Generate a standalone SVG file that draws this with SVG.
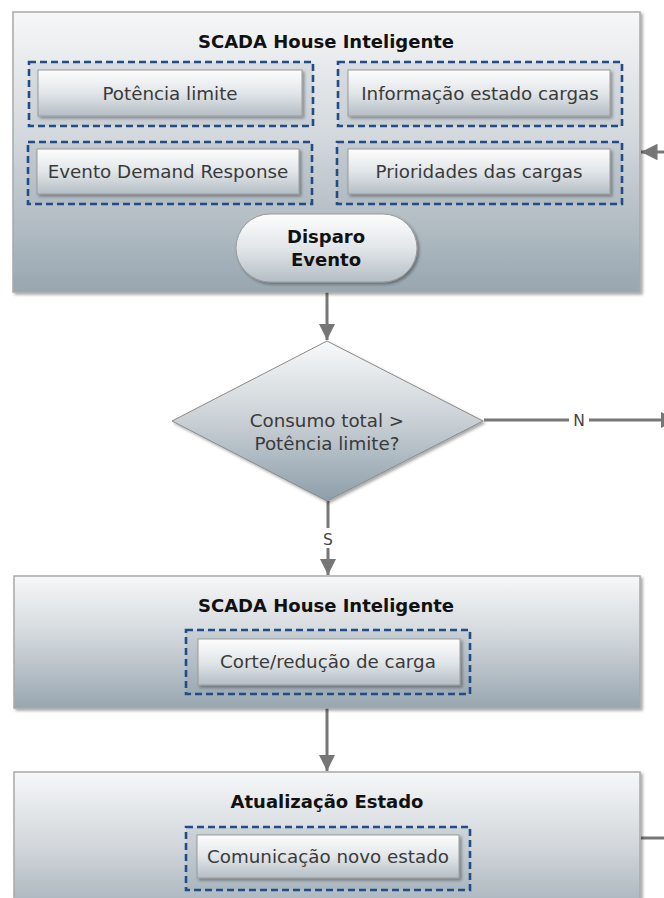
<svg xmlns="http://www.w3.org/2000/svg" width="664" height="898" viewBox="0 0 664 898">
<defs>
  <linearGradient id="gOuter" x1="0" y1="0" x2="0" y2="1">
    <stop offset="0" stop-color="#f6f7f8"/>
    <stop offset="0.45" stop-color="#d3d8dc"/>
    <stop offset="1" stop-color="#98a6b0"/>
  </linearGradient>
  <linearGradient id="gInner" x1="0" y1="0" x2="0" y2="1">
    <stop offset="0" stop-color="#fdfdfd"/>
    <stop offset="0.5" stop-color="#e2e6e9"/>
    <stop offset="1" stop-color="#b4bec5"/>
  </linearGradient>
  <linearGradient id="gDiamond" x1="0" y1="0" x2="0" y2="1">
    <stop offset="0" stop-color="#f8f9fa"/>
    <stop offset="0.5" stop-color="#c9d0d5"/>
    <stop offset="1" stop-color="#8d9eaa"/>
  </linearGradient>
  <filter id="sh" x="-10%" y="-10%" width="125%" height="130%">
    <feDropShadow dx="2" dy="2" stdDeviation="1.5" flood-color="#000" flood-opacity="0.35"/>
  </filter>
  <marker id="arr" viewBox="0 0 10 10" refX="10" refY="5" markerWidth="5.5" markerHeight="5.5" markerUnits="strokeWidth" orient="auto">
    <path d="M0,0 L10,5 L0,10 z" fill="#767676"/>
  </marker>
  <style>
    .outer{fill:url(#gOuter);stroke:#a9a9a9;stroke-width:1.5;filter:url(#sh)}
    .dash{fill:#6f8190;fill-opacity:0.12;stroke:#234c87;stroke-width:2.6;stroke-dasharray:7 4}
    .inner{fill:url(#gInner);stroke:#9a9a9a;stroke-width:1;filter:url(#sh)}
    .title{font-family:"DejaVu Sans",Verdana,sans-serif;font-weight:bold;font-size:18px;fill:#111;text-anchor:middle}
    .lbl{font-family:"DejaVu Sans",Verdana,sans-serif;font-size:18.3px;fill:#3a3a3a;text-anchor:middle}
    .edge{fill:none;stroke:#777;stroke-width:3}
    .el{font-family:"DejaVu Sans",Verdana,sans-serif;font-size:15.5px;fill:#444;text-anchor:middle}
  </style>
</defs>

<g id="connectors">
  <line class="edge" x1="327" y1="283" x2="327" y2="340" marker-end="url(#arr)"/>
  <line class="edge" x1="484" y1="420" x2="677" y2="420" marker-end="url(#arr)"/>
  <rect x="569" y="409" width="20" height="22" fill="#fff"/>
  <text class="el" x="579" y="426">N</text>
  <line class="edge" x1="328" y1="501" x2="328" y2="575" marker-end="url(#arr)"/>
  <rect x="319" y="528" width="18" height="20" fill="#fff"/>
  <text class="el" x="328" y="545">S</text>
  <line class="edge" x1="327" y1="708" x2="327" y2="771" marker-end="url(#arr)"/>
  <line class="edge" x1="641" y1="838" x2="664" y2="838"/>
  <line class="edge" x1="664" y1="152" x2="641" y2="152" marker-end="url(#arr)"/>
</g>

<g id="scada1">
  <rect class="outer" x="13" y="12" width="627" height="280"/>
  <text class="title" x="326" y="48">SCADA House Inteligente</text>
</g>
<g id="potencia">
  <rect class="dash" x="29" y="62" width="284" height="64"/>
  <rect class="inner" x="38" y="70" width="264" height="46"/>
  <text class="lbl" x="170" y="100">Potência limite</text>
</g>
<g id="informacao">
  <rect class="dash" x="338" y="62" width="284" height="64"/>
  <rect class="inner" x="348" y="70" width="262" height="46"/>
  <text class="lbl" x="480" y="100">Informação estado cargas</text>
</g>
<g id="evento-dr">
  <rect class="dash" x="28" y="142" width="284" height="62"/>
  <rect class="inner" x="37" y="149" width="262" height="45"/>
  <text class="lbl" x="168" y="178">Evento Demand Response</text>
</g>
<g id="prioridades">
  <rect class="dash" x="337" y="142" width="285" height="62"/>
  <rect class="inner" x="348" y="149" width="262" height="45"/>
  <text class="lbl" x="479" y="178">Prioridades das cargas</text>
</g>
<g id="disparo">
  <rect class="inner" x="236" y="214" width="181" height="68" rx="34" ry="34"/>
  <text class="title" x="326" y="243">Disparo</text>
  <text class="title" x="326" y="266">Evento</text>
</g>

<g id="decisao">
  <polygon points="327,341 483,421 327,501 172,421" fill="url(#gDiamond)" stroke="#8a8a8a" stroke-width="1" filter="url(#sh)"/>
  <text class="lbl" x="327" y="427">Consumo total &gt;</text>
  <text class="lbl" x="327" y="450">Potência limite?</text>
</g>

<g id="scada2">
  <rect class="outer" x="14" y="576" width="626" height="132"/>
  <text class="title" x="326" y="612">SCADA House Inteligente</text>
</g>
<g id="corte">
  <rect class="dash" x="186" y="630" width="284" height="64"/>
  <rect class="inner" x="198" y="639" width="262" height="46"/>
  <text class="lbl" x="328" y="668">Corte/redução de carga</text>
</g>

<g id="atualizacao">
  <rect class="outer" x="14" y="772" width="626" height="160"/>
  <text class="title" x="327" y="808">Atualização Estado</text>
</g>
<g id="comunicacao">
  <rect class="dash" x="186" y="827" width="284" height="63"/>
  <rect class="inner" x="197" y="835" width="262" height="43"/>
  <text class="lbl" x="328" y="863">Comunicação novo estado</text>
</g>
</svg>
